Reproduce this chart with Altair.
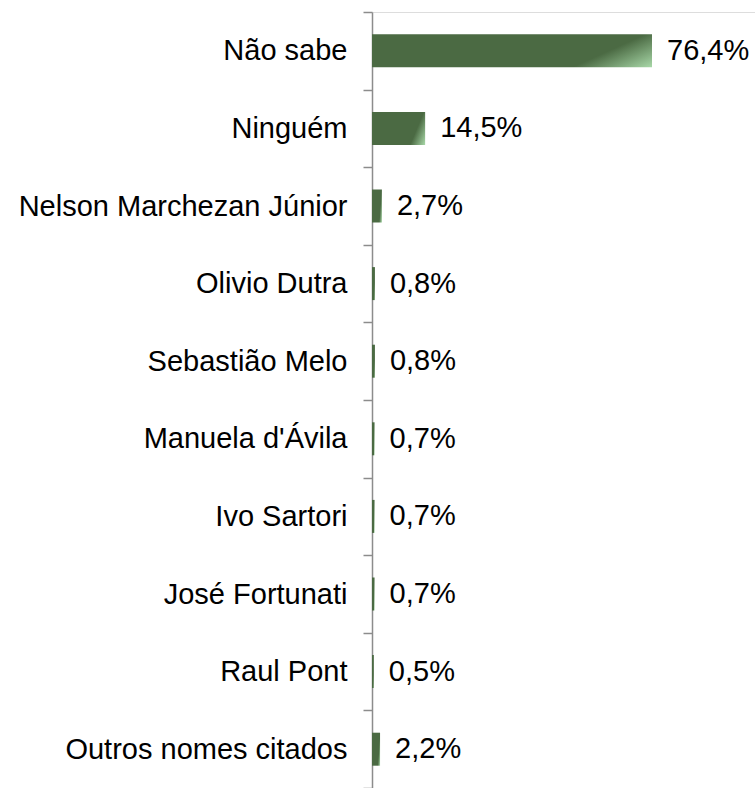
import altair as alt
import pandas as pd

categories = ["Não sabe", "Ninguém", "Nelson Marchezan Júnior", "Olivio Dutra",
              "Sebastião Melo", "Manuela d'Ávila", "Ivo Sartori", "José Fortunati",
              "Raul Pont", "Outros nomes citados"]
values = [76.4, 14.5, 2.7, 0.8, 0.8, 0.7, 0.7, 0.7, 0.5, 2.2]
labels = ["76,4%", "14,5%", "2,7%", "0,8%", "0,8%", "0,7%", "0,7%", "0,7%", "0,5%", "2,2%"]

df = pd.DataFrame({"cat": categories, "val": values, "lab": labels})

FONT = "Liberation Sans"
W, H = 383, 776
xmax = W / (280 / 76.4)

grad = alt.Gradient(
    gradient="linear",
    stops=[alt.GradientStop(offset=0, color="#4b6a43"),
           alt.GradientStop(offset=0.775, color="#4b6a43"),
           alt.GradientStop(offset=1, color="#a8d8a8")],
    x1=0, y1=0, x2=1.18, y2=0.307,
)

y = alt.Y("cat:N", sort=categories, title=None,
          scale=alt.Scale(paddingInner=0, paddingOuter=0),
          axis=alt.Axis(tickBand="extent", tickSize=9, labelPadding=16,
                        labelFont=FONT, labelFontSize=29, labelColor="#000000",
                        labelLimit=500, domainColor="#8c8c8c", tickColor="#8c8c8c",
                        domainWidth=1.5, tickWidth=1.5, grid=False))
x = alt.X("val:Q", title=None, scale=alt.Scale(domain=[0, xmax], nice=False, zero=True),
          axis=None)

bars = alt.Chart(df).mark_bar(height=33, color=grad).encode(y=y, x=x)
text = alt.Chart(df).mark_text(align="left", baseline="middle", dx=15, font=FONT,
                               fontSize=29, color="#000000").encode(
    y=alt.Y("cat:N", sort=categories), x="val:Q", text="lab:N")

chart = alt.layer(bars, text).properties(
    width=W, height=H,
    autosize=alt.AutoSizeParams(type="none"),
    padding={"left": 372, "top": 12, "right": 0, "bottom": 0},
).configure_view(stroke=None).configure(background="white")

chart.save("out.html", embed_options={"renderer": "svg", "actions": False})
